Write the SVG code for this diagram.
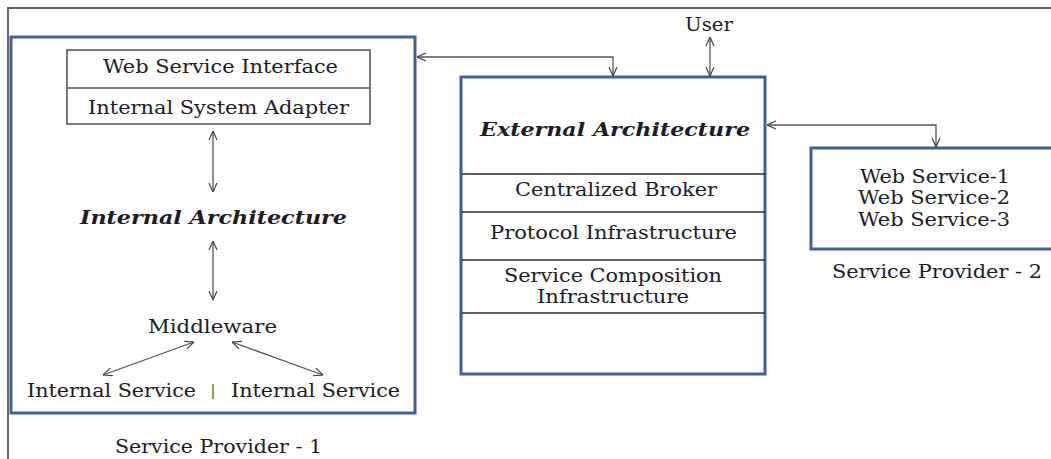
<svg xmlns="http://www.w3.org/2000/svg" width="1051" height="459" viewBox="0 0 1051 459">
<defs>
<marker id="ah" viewBox="0 0 10 10" refX="10" refY="5" markerWidth="10" markerHeight="10" markerUnits="userSpaceOnUse" orient="auto-start-reverse">
<path d="M1,1 L10,5 L1,9" fill="none" stroke="#444" stroke-width="1.2"/>
</marker>
<style>
text{font-family:"DejaVu Serif","Liberation Serif",serif;font-size:18px;fill:#1e1a26}
.ti{font-weight:bold;font-style:italic}
.blue{fill:#fff;stroke:#41618f;stroke-width:3}
.row{fill:none;stroke:#2a2a2a;stroke-width:1.5}
.con{fill:none;stroke:#555;stroke-width:1.3}
</style>
</defs>
<rect width="1051" height="459" fill="#fff"/>
<path d="M8,459 L8,8 L1051,8" fill="none" stroke="#666" stroke-width="2"/>

<g id="sp1">
<rect class="blue" x="11" y="37" width="404" height="376"/>
<rect x="67" y="50" width="303" height="74" fill="#fff" stroke="#333" stroke-width="1.3"/>
<line x1="67" y1="88" x2="370" y2="88" stroke="#555" stroke-width="1.3"/>
<text x="103" y="73" textLength="235" lengthAdjust="spacingAndGlyphs">Web Service Interface</text>
<text x="88" y="114" textLength="261" lengthAdjust="spacingAndGlyphs">Internal System Adapter</text>
<text class="ti" x="80" y="224" textLength="267" lengthAdjust="spacingAndGlyphs">Internal Architecture</text>
<text x="148" y="333" textLength="129" lengthAdjust="spacingAndGlyphs">Middleware</text>
<text x="27" y="397" textLength="169" lengthAdjust="spacingAndGlyphs">Internal Service</text>
<line x1="213" y1="384" x2="213" y2="399" stroke="#9a9a50" stroke-width="2"/>
<text x="231" y="397" textLength="169" lengthAdjust="spacingAndGlyphs">Internal Service</text>
<text x="115" y="453" textLength="207" lengthAdjust="spacingAndGlyphs">Service Provider - 1</text>
</g>

<g id="external">
<rect class="blue" x="461" y="77" width="304" height="297"/>
<text class="ti" x="480" y="136" textLength="270" lengthAdjust="spacingAndGlyphs">External Architecture</text>
<line class="row" x1="462" y1="174" x2="765" y2="174"/>
<line class="row" x1="462" y1="212" x2="765" y2="212"/>
<line class="row" x1="462" y1="260" x2="765" y2="260"/>
<line class="row" x1="462" y1="313" x2="765" y2="313"/>
<text x="515" y="196" textLength="202" lengthAdjust="spacingAndGlyphs">Centralized Broker</text>
<text x="490" y="239" textLength="247" lengthAdjust="spacingAndGlyphs">Protocol Infrastructure</text>
<text x="504" y="282" textLength="218" lengthAdjust="spacingAndGlyphs">Service Composition</text>
<text x="537" y="303" textLength="152" lengthAdjust="spacingAndGlyphs">Infrastructure</text>
</g>

<g id="user">
<text x="685" y="31" textLength="48" lengthAdjust="spacingAndGlyphs">User</text>
</g>

<g id="sp2">
<rect class="blue" x="811" y="148" width="250" height="101"/>
<text x="860" y="183" textLength="150" lengthAdjust="spacingAndGlyphs">Web Service-1</text>
<text x="858" y="204" textLength="152" lengthAdjust="spacingAndGlyphs">Web Service-2</text>
<text x="858" y="226" textLength="152" lengthAdjust="spacingAndGlyphs">Web Service-3</text>
<text x="832" y="278" textLength="210" lengthAdjust="spacingAndGlyphs">Service Provider - 2</text>
</g>

<g id="connectors">
<line class="con" x1="213" y1="131" x2="213" y2="192" marker-start="url(#ah)" marker-end="url(#ah)"/>
<line class="con" x1="213" y1="241" x2="213" y2="300" marker-start="url(#ah)" marker-end="url(#ah)"/>
<line class="con" x1="194" y1="342" x2="103" y2="375" marker-start="url(#ah)" marker-end="url(#ah)"/>
<line class="con" x1="232" y1="342" x2="323" y2="375" marker-start="url(#ah)" marker-end="url(#ah)"/>
<polyline class="con" points="417,57 613,57 613,76" marker-start="url(#ah)" marker-end="url(#ah)"/>
<line class="con" x1="710" y1="37" x2="710" y2="76" marker-start="url(#ah)" marker-end="url(#ah)"/>
<polyline class="con" points="767,125 936,125 936,147" marker-start="url(#ah)" marker-end="url(#ah)"/>
</g>
</svg>
